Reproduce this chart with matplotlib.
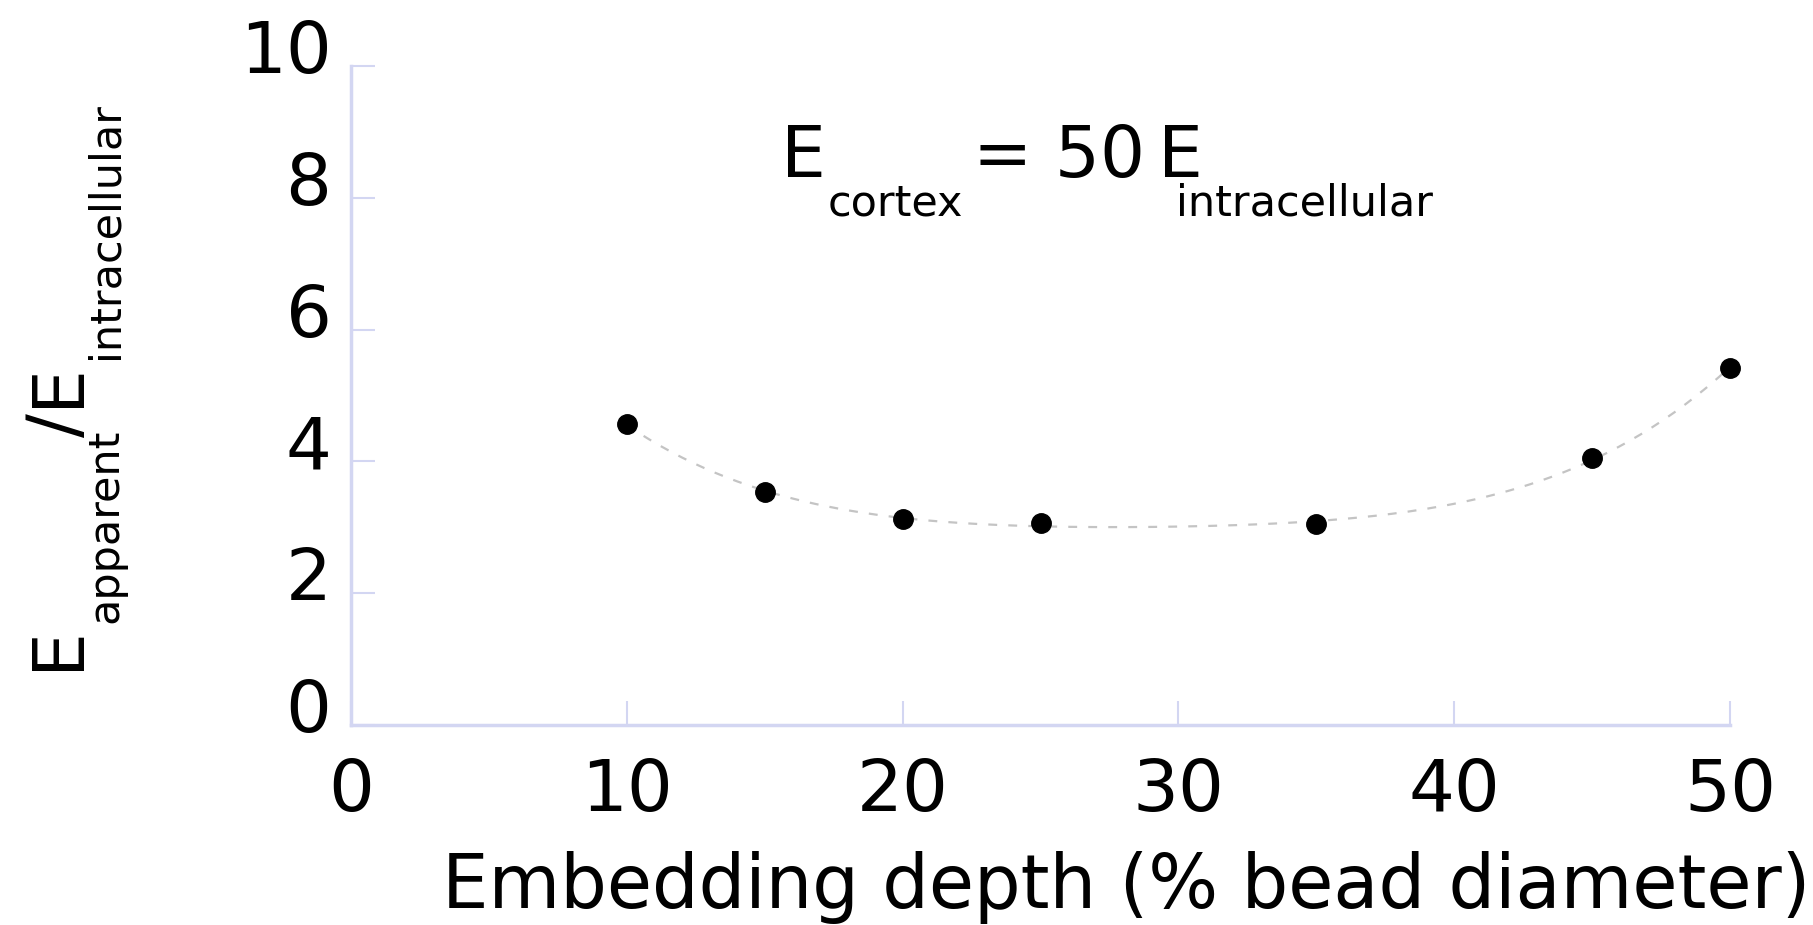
import numpy as np
import matplotlib
matplotlib.use("Agg")
import matplotlib.pyplot as plt
import matplotlib.transforms as mtransforms

depth = [10, 15, 20, 25, 35, 45, 50]
ratio = [4.56, 3.54, 3.12, 3.07, 3.05, 4.05, 5.42]

xticks = [0, 10, 20, 30, 40, 50]
yticks = [0, 2, 4, 6, 8, 10]

axis_color = "#d3d6f2"
W, H = 1813, 925

plt.rcParams["font.family"] = "DejaVu Sans"

fig = plt.figure(figsize=(W / 100, H / 100), dpi=100)
ax = fig.add_axes([351 / W, 200 / H, 1379 / W, 659 / H])

# smooth trend line through the points
coef = np.polyfit(depth, ratio, 4)
xs = np.linspace(min(depth), max(depth), 200)
ax.plot(xs, np.polyval(coef, xs), color="#c4c4c4", lw=1.6, dashes=(4, 5), zorder=1)
ax.plot(depth, ratio, "o", color="black", ms=14, zorder=2, clip_on=False)

ax.set_xlim(0, 50)
ax.set_ylim(0, 10)
ax.set_xticks(xticks)
ax.set_yticks(yticks)

for side in ["top", "right"]:
    ax.spines[side].set_visible(False)
for side in ["left", "bottom"]:
    ax.spines[side].set_color(axis_color)
    ax.spines[side].set_linewidth(2.5)

ax.tick_params(axis="both", direction="in", length=17, width=1.5, color=axis_color,
               labelsize=52)
ax.tick_params(axis="x", pad=23)
ax.tick_params(axis="y", pad=14)

# y tick labels sit a little above their ticks in the original
offset = mtransforms.ScaledTranslation(0, 14.4 / 72, fig.dpi_scale_trans)
for lab in ax.get_yticklabels():
    lab.set_transform(lab.get_transform() + offset)

ax.set_xlabel("Embedding depth (% bead diameter)", fontsize=53, va="baseline")
ax.xaxis.set_label_coords(0.562, -0.2777)


def put(s, x, y, size, rot=0):
    # x, y in pixels measured from the top-left of the image
    fig.text(x / W, 1 - y / H, s, fontsize=size, rotation=rot,
             rotation_mode="anchor", ha="left", va="baseline")


big, small = 51, 31

# y axis label: E_apparent / E_intracellular, written bottom to top
put("E", 78, 670, big, 90)
put("apparent", 117, 623, small, 90)
put("/", 78, 437, big, 90)
put("E", 78, 407, big, 90)
put("intracellular", 117, 359, small, 90)

# annotation: E_cortex = 50 E_intracellular
put("E", 781, 177, big)
put("cortex", 828, 215, small)
put("= 50", 973, 177, big)
put("E", 1158, 177, big)
put("intracellular", 1176, 215, small)

fig.savefig("out.png", dpi=100)
